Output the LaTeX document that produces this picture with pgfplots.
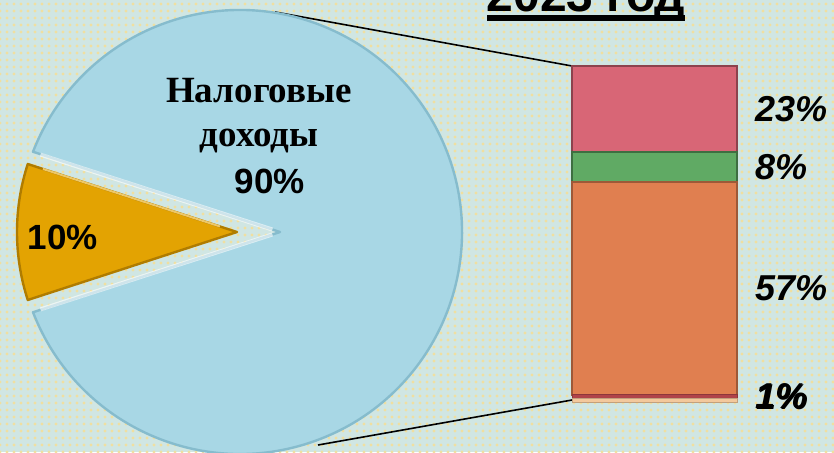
\documentclass[border=0pt]{standalone}
\usepackage{fontspec}
\setmainfont{Liberation Sans}
\newfontfamily\cyrserif{Liberation Serif}
\usepackage{pgfplots}
\usepackage{pgfplotstable}
\pgfplotsset{compat=1.18}
\usetikzlibrary{patterns.meta}

\definecolor{bgc}{HTML}{D0E6E3}
\definecolor{dotc}{HTML}{F0DFA0}
\definecolor{pieblue}{HTML}{A8D7E5}
\definecolor{pieblueedge}{HTML}{86BCCD}
\definecolor{piegold}{HTML}{E3A302}
\definecolor{piegoldedge}{HTML}{B07C00}
\definecolor{cred}{HTML}{D86676}
\definecolor{cgreen}{HTML}{60AA64}
\definecolor{corange}{HTML}{E07F50}
\definecolor{cdred}{HTML}{B0434A}
\definecolor{cpeach}{HTML}{F3C89C}

% pie: tax revenues vs the rest
\pgfplotstableread{
part value
tax  90
rest 10
}\pietable

\begin{document}
\begin{tikzpicture}
\begin{axis}[
  x=0.5pt,y=0.5pt,
  xmin=0,xmax=834,ymin=0,ymax=452,
  hide axis,clip=false,
]
  % background
  \fill[bgc] (axis cs:0,0) rectangle (axis cs:834,452);
  \fill[pattern={Dots[distance=3.5pt,radius=0.8pt]},pattern color=dotc]
    (axis cs:0,0) rectangle (axis cs:834,452);

  % connector lines to the bar
  \draw[black,line width=0.8pt] (axis cs:275,440) -- (axis cs:572,386);
  \draw[black,line width=0.8pt] (axis cs:318,7) -- (axis cs:572,52);

  \pgfplotstablegetelem{0}{value}\of\pietable \let\pA=\pgfplotsretval
  \pgfplotstablegetelem{1}{value}\of\pietable \let\pB=\pgfplotsretval
  % half angle of the small slice
  \pgfmathsetmacro{\ha}{1.8*\pB}
  % big slice: vertex pushed 20pt right of the centre, radius 111pt
  \pgfmathsetmacro{\tt}{20*cos(\ha)+sqrt(400*cos(\ha)^2-400+111^2)}
  \pgfmathsetmacro{\phi}{atan2(\tt*sin(\ha),20-\tt*cos(\ha))}
  \pgfmathsetmacro{\sa}{360-\phi}
  \pgfmathsetmacro{\ea}{360+\phi}
  \pgfmathsetmacro{\ga}{180-\ha}
  \pgfmathsetmacro{\gb}{180+\ha}

  \fill[pieblue,draw=pieblueedge,line width=1.2pt,line join=round]
    (axis cs:280,220) -- ([shift={(\sa:111pt)}]axis cs:240,220)
    arc[start angle=\sa,end angle=\ea,radius=111pt] -- cycle;
  \draw[white,opacity=0.6,line width=2pt]
    ([shift={(\gb:4pt)}]axis cs:280,220) -- ([shift={(\sa:107pt)}]axis cs:240,220);
  \draw[white,opacity=0.6,line width=2pt]
    ([shift={(\ga:4pt)}]axis cs:280,220) -- ([shift={(\ea:107pt)}]axis cs:240,220);
  % small slice
  \fill[piegold,draw=piegoldedge,line width=1.2pt,line join=round]
    (axis cs:237,220) -- ++(\ga:110pt) arc[start angle=\ga,end angle=\gb,radius=110pt] -- cycle;
  \draw[piegold!60!white,line width=1pt]
    ([shift={(\ga:9pt)}]axis cs:237,220) -- ++(\ga:93pt);

  % pie labels
  \node[font=\cyrserif\bfseries\fontsize{18.5}{22}\selectfont,anchor=base] at (axis cs:259,350) {Налоговые};
  \node[font=\cyrserif\bfseries\fontsize{18.5}{22}\selectfont,anchor=base] at (axis cs:259,306) {доходы};
  \node[font=\bfseries\fontsize{17.5}{20}\selectfont,anchor=base] at (axis cs:270,259) {90\%};
  \node[font=\bfseries\fontsize{17.5}{20}\selectfont,anchor=base] at (axis cs:63,203) {10\%};

  % title (cut off by the top edge)
  \node[font=\bfseries\fontsize{24}{28}\selectfont,anchor=base] at (axis cs:586,441) {2023 год};
  \draw[black,line width=3.2pt] (axis cs:487,434) -- (axis cs:685,434);
\end{axis}

\begin{axis}[
  at={(286pt,25pt)},anchor=south west,
  scale only axis,width=82.5pt,height=168pt,
  xmin=0,xmax=1,ymin=0,ymax=90,
  hide axis,clip=false,
  ybar stacked,bar width=82.5pt,
]
  \addplot[fill=cpeach,draw=cpeach!80!black,line width=0.4pt] coordinates {(0.5,1)};
  \addplot[fill=cdred,draw=cdred!80!black,line width=0.4pt] coordinates {(0.5,1)};
  \addplot[fill=corange,draw=corange!70!black,line width=1pt] coordinates {(0.5,57)};
  \addplot[fill=cgreen,draw=cgreen!65!black,line width=1pt] coordinates {(0.5,8)};
  \addplot[fill=cred,draw=cred!65!black,line width=1pt] coordinates {(0.5,23)};

  \node[anchor=west,xshift=5.5pt,font=\bfseries\itshape\fontsize{18}{20}\selectfont] at (axis cs:1,78.5) {23\%};
  \node[anchor=west,xshift=5.5pt,font=\bfseries\itshape\fontsize{18}{20}\selectfont] at (axis cs:1,63) {8\%};
  \node[anchor=west,xshift=5.5pt,font=\bfseries\itshape\fontsize{18}{20}\selectfont] at (axis cs:1,30.5) {57\%};
  \node[anchor=west,xshift=5.5pt,font=\bfseries\itshape\fontsize{18}{20}\selectfont] at (axis cs:1,1.5) {1\%};
  \node[anchor=west,xshift=6.1pt,font=\bfseries\itshape\fontsize{18}{20}\selectfont] at (axis cs:1,1.2) {1\%};
\end{axis}
\pgfresetboundingbox
\path (0,0) rectangle (417pt,226pt);
\end{tikzpicture}
\end{document}
